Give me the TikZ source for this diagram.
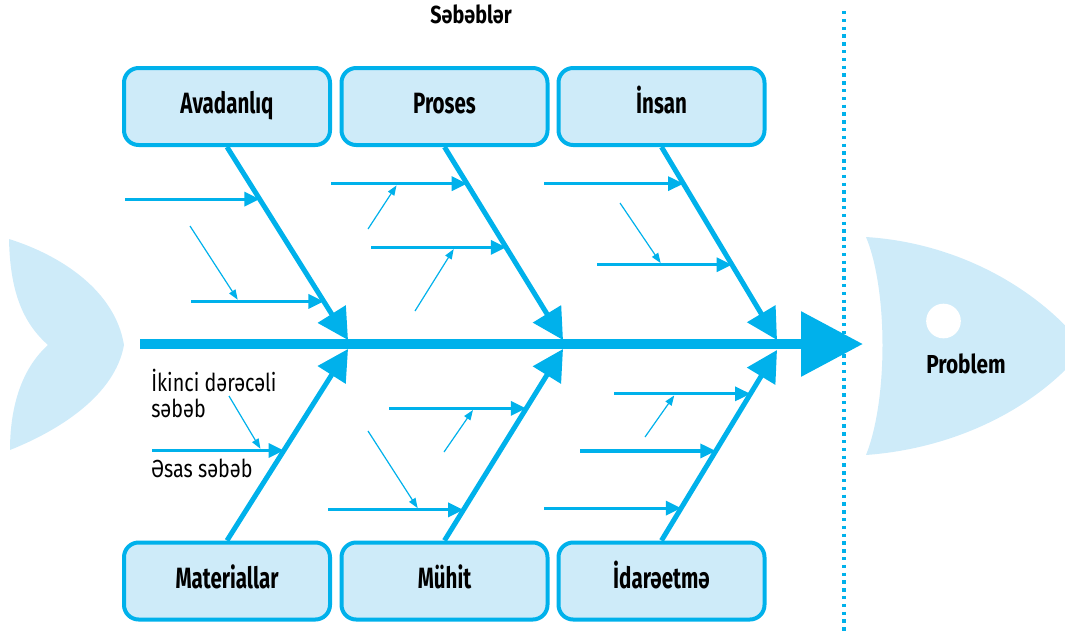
\documentclass[tikz,border=0pt]{standalone}
\usepackage{fontspec}
\setmainfont{Fira Sans}
\newfontfamily\labelfont{Fira Sans}[FakeStretch=0.7]
\newfontfamily\headfont{Fira Sans}[FakeStretch=0.8]
\newfontfamily\notefont{Fira Sans}[FakeStretch=0.8]
\usetikzlibrary{arrows.meta}

\definecolor{fishblue}{HTML}{00B1EB}
\definecolor{fishlight}{HTML}{CEEBF9}

\tikzset{
	cause/.style={draw=fishblue,fill=fishlight,line width=3pt,rounded corners=11pt,
		minimum width=154.5pt,minimum height=57.75pt,inner sep=0pt,text height=16pt,text depth=4.8pt,
		font=\labelfont\bfseries\fontsize{22pt}{24pt}\selectfont},
	spine/.style={fishblue,line width=8pt,-{Triangle[length=46.5pt,width=47pt]}},
	bone/.style={fishblue,line width=3.75pt,-{Triangle[length=23pt,width=24pt]}},
	rib/.style={fishblue,line width=2.4pt,-{Triangle[length=11.5pt,width=10.5pt]}},
	twig/.style={fishblue,line width=0.9pt,shorten >=1.5pt,-{Triangle[length=7.5pt,width=5.5pt]}},
	note/.style={font=\notefont\fontsize{18.5pt}{19.5pt}\selectfont,inner sep=0pt,align=left},
}

\begin{document}
\begin{tikzpicture}[x=0.75pt,y=-0.75pt,line join=round]
		\clip (0,0) rectangle (1065,637);
		\fill[fishlight] (9,239) .. controls (60,255) and (115,290) .. (124,345)
			.. controls (115,395) and (60,430) .. (10,450)
			.. controls (10,410) and (20,370) .. (48,345)
			.. controls (22,322) and (10,290) .. cycle;
		\fill[fishlight] (866,237) .. controls (960,243) and (1040,290) .. (1085,348)
			.. controls (1040,405) and (960,448) .. (866,455)
			.. controls (888,400) and (888,290) .. cycle;
		\fill[white] (943.5,321) circle (13pt);
		\node[font=\headfont\bfseries\fontsize{19.5pt}{22pt}\selectfont,anchor=base] (prob) at (966,373) {Problem};
		\node[font=\headfont\bfseries\fontsize{18.5pt}{22pt}\selectfont,anchor=base] (head) at (471,23) {Səbəblər};
		
		\node[cause] (avad) at (227,106.5) {Avadanlıq};
		\node[cause] (pros) at (444.5,106.5) {Proses};
		\node[cause] (insan) at (661.5,106.5) {İnsan};
		\node[cause] (mat) at (227,581) {Materiallar};
		\node[cause] (muh) at (444.5,581) {Mühit};
		\node[cause] (idar) at (661.5,581) {İdarəetmə};
		
		\coordinate (tail) at (140,344);
		\coordinate (nose) at (863,344);
		\coordinate (ta) at (348,340);
		\coordinate (tp) at (563,340);
		\coordinate (ti) at (777,340);
		\coordinate (bm) at (348,349);
		\coordinate (bh) at (563,349);
		\coordinate (bi) at (777,350);
		
		\draw[spine] (tail) -- (nose);
		\draw[bone] (avad.south) -- (ta) coordinate[pos=.27] (a1) coordinate[pos=.80] (a2);
		\draw[bone] (pros.south) -- (tp) coordinate[pos=.19] (p1) coordinate[pos=.52] (p2);
		\draw[bone] (insan.south) -- (ti) coordinate[pos=.19] (i1) coordinate[pos=.61] (i2);
		\draw[bone] (mat.north) -- (bm) coordinate[pos=.47] (m1);
		\draw[bone] (muh.north) -- (bh) coordinate[pos=.69] (h1) coordinate[pos=.16] (h2);
		\draw[bone] (idar.north) -- (bi) coordinate[pos=.77] (d1) coordinate[pos=.47] (d2) coordinate[pos=.17] (d3);
		
		\draw[rib] (a1 -| 125,0) -- (a1);
		\draw[rib] (a2 -| 191,0) -- (a2) coordinate[pos=.36] (a2t);
		\draw[twig] (190,226) -- (a2t);
		\draw[rib] (p1 -| 331,0) -- (p1) coordinate[pos=.49] (p1t);
		\draw[twig] (368,229) -- (p1t);
		\draw[rib] (p2 -| 371,0) -- (p2) coordinate[pos=.62] (p2t);
		\draw[twig] (415,311) -- (p2t);
		\draw[rib] (i1 -| 544,0) -- (i1);
		\draw[rib] (i2 -| 597,0) -- (i2) coordinate[pos=.48] (i2t);
		\draw[twig] (620,203) -- (i2t);
		\draw[rib] (m1 -| 152,0) -- (m1) coordinate[pos=.83] (m1t);
		\draw[twig] (229,396) -- (m1t);
		\draw[rib] (h1 -| 389,0) -- (h1) coordinate[pos=.62] (h1t);
		\draw[twig] (444,452) -- (h1t);
		\draw[rib] (h2 -| 328,0) -- (h2) coordinate[pos=.67] (h2t);
		\draw[twig] (368,431) -- (h2t);
		\draw[rib] (d1 -| 614,0) -- (d1) coordinate[pos=.45] (d1t);
		\draw[twig] (645,437) -- (d1t);
		\draw[rib] (d2 -| 580,0) -- (d2);
		\draw[rib] (d3 -| 544,0) -- (d3);
		
		\node[note,anchor=north west] (second) at (151,369) {İkinci dərəcəli\\səbəb};
		\node[note,anchor=base west] (root) at (151,477) {Əsas səbəb};
		
		\coordinate (dtop) at (844,11);
		\coordinate (dbot) at (844,635);
		\draw[fishblue,line width=2.6pt,dash pattern=on 2.6pt off 3.25pt] (dtop) -- (dbot);
		\end{tikzpicture}
\end{document}
